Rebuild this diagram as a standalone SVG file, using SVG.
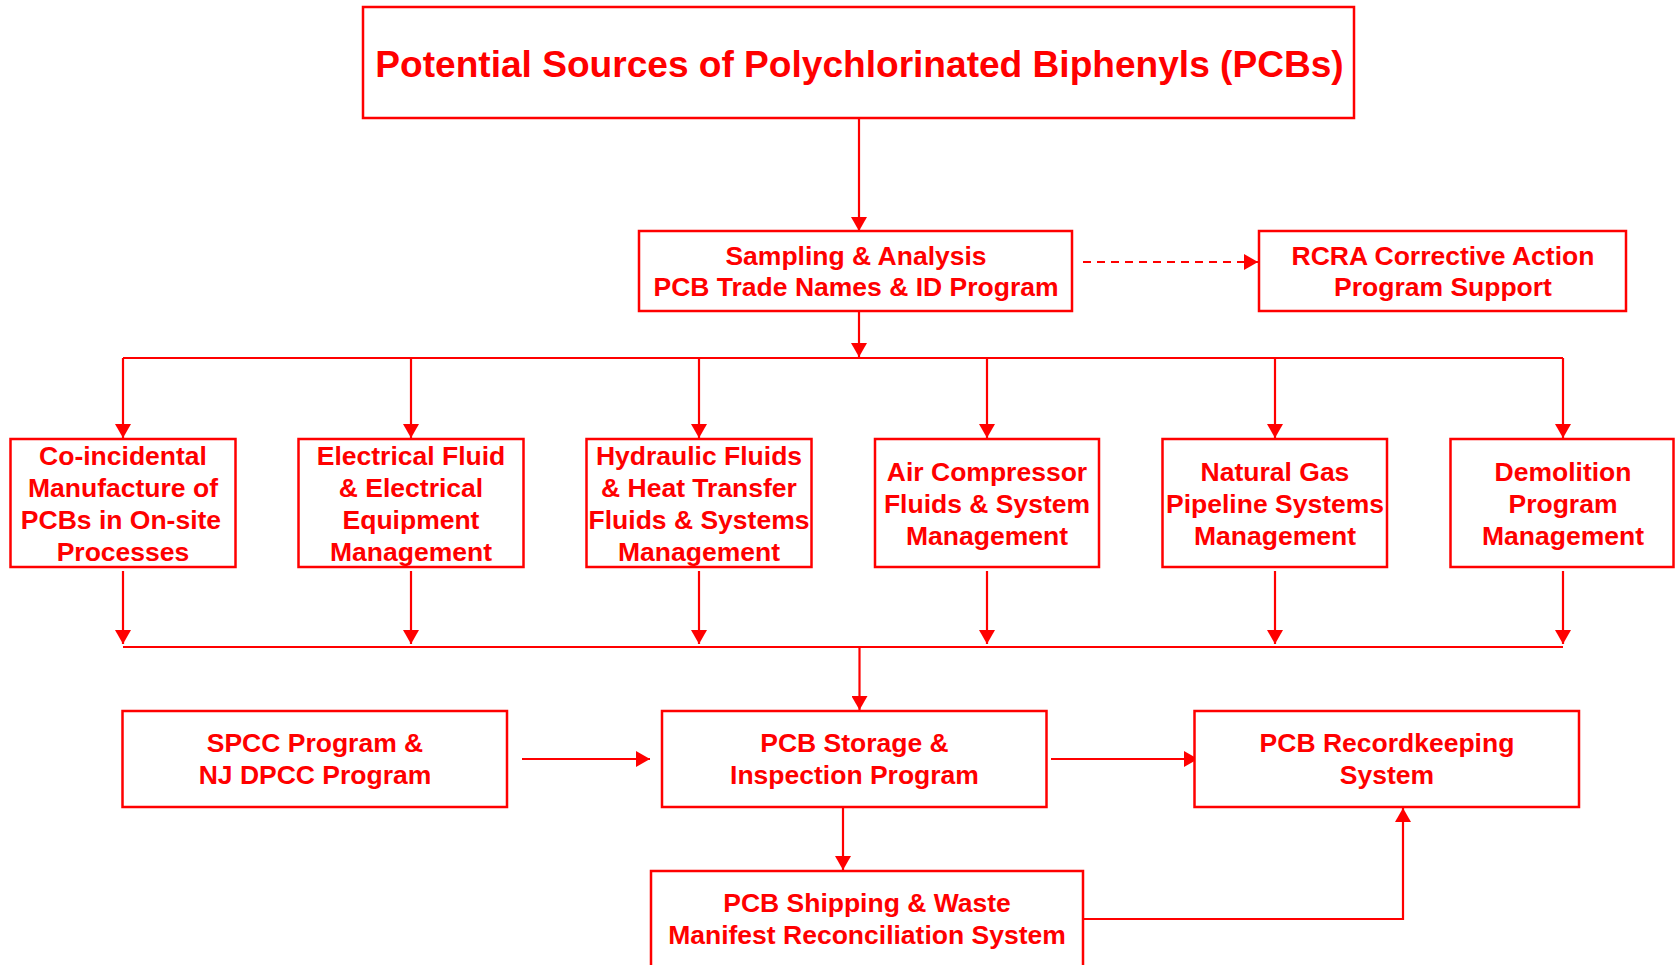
<svg xmlns="http://www.w3.org/2000/svg" width="1675" height="965" viewBox="0 0 1675 965">
<style>
.box{fill:#fff;stroke:#ff0000;stroke-width:2.5}
.t{font-family:"Liberation Sans",Arial,sans-serif;font-weight:bold;font-size:26.5px;fill:#ff0000;text-anchor:middle}
.title{font-size:37.1px}
.c{fill:none;stroke:#ff0000;stroke-width:2.2}
.dash{stroke-dasharray:8 6}
</style>
<defs>
<marker id="ah" markerUnits="userSpaceOnUse" markerWidth="15" markerHeight="16" refX="14" refY="8" orient="auto">
<path d="M0,0 L14,8 L0,16 z" fill="#ff0000"/>
</marker>
</defs>
<rect width="1675" height="965" fill="#fff"/>
<g id="connectors">
<line class="c" x1="859" y1="118" x2="859" y2="231" marker-end="url(#ah)"/>
<line class="c dash" x1="1083" y1="262" x2="1258" y2="262" marker-end="url(#ah)"/>
<line class="c" x1="859" y1="311" x2="859" y2="357" marker-end="url(#ah)"/>
<line class="c" x1="123" y1="358" x2="1563" y2="358"/>
<line class="c" x1="123" y1="358" x2="123" y2="438" marker-end="url(#ah)"/>
<line class="c" x1="411" y1="358" x2="411" y2="438" marker-end="url(#ah)"/>
<line class="c" x1="699" y1="358" x2="699" y2="438" marker-end="url(#ah)"/>
<line class="c" x1="987" y1="358" x2="987" y2="438" marker-end="url(#ah)"/>
<line class="c" x1="1275" y1="358" x2="1275" y2="438" marker-end="url(#ah)"/>
<line class="c" x1="1563" y1="358" x2="1563" y2="438" marker-end="url(#ah)"/>
<line class="c" x1="123" y1="571" x2="123" y2="644" marker-end="url(#ah)"/>
<line class="c" x1="411" y1="571" x2="411" y2="644" marker-end="url(#ah)"/>
<line class="c" x1="699" y1="571" x2="699" y2="644" marker-end="url(#ah)"/>
<line class="c" x1="987" y1="571" x2="987" y2="644" marker-end="url(#ah)"/>
<line class="c" x1="1275" y1="571" x2="1275" y2="644" marker-end="url(#ah)"/>
<line class="c" x1="1563" y1="571" x2="1563" y2="644" marker-end="url(#ah)"/>
<line class="c" x1="123" y1="647" x2="1563" y2="647"/>
<line class="c" x1="859.5" y1="647" x2="859.5" y2="710" marker-end="url(#ah)"/>
<line class="c" x1="522" y1="759" x2="650" y2="759" marker-end="url(#ah)"/>
<line class="c" x1="1051" y1="759" x2="1198" y2="759" marker-end="url(#ah)"/>
<line class="c" x1="843" y1="807" x2="843" y2="870" marker-end="url(#ah)"/>
<polyline class="c" points="1083,919 1403,919 1403,808" marker-end="url(#ah)"/>
</g>
<g id="title">
<rect class="box" x="363" y="7" width="991" height="111"/>
<text class="t title" x="859.5" y="77">Potential Sources of Polychlorinated Biphenyls (PCBs)</text>
</g>
<g id="sampling">
<rect class="box" x="639" y="231" width="433" height="80"/>
<text class="t" x="856" y="265">Sampling &amp; Analysis</text>
<text class="t" x="856" y="296">PCB Trade Names &amp; ID Program</text>
</g>
<g id="rcra">
<rect class="box" x="1259" y="231" width="367" height="80"/>
<text class="t" x="1443" y="265">RCRA Corrective Action</text>
<text class="t" x="1443" y="296">Program Support</text>
</g>
<g id="coincidental">
<rect class="box" x="10.5" y="439" width="225" height="128"/>
<text class="t" x="123" y="465">Co-incidental</text>
<text class="t" x="123" y="497">Manufacture of</text>
<text class="t" x="121" y="529">PCBs in On-site</text>
<text class="t" x="123" y="561">Processes</text>
</g>
<g id="electrical">
<rect class="box" x="298.5" y="439" width="225" height="128"/>
<text class="t" x="411" y="465">Electrical Fluid</text>
<text class="t" x="411" y="497">&amp; Electrical</text>
<text class="t" x="411" y="529">Equipment</text>
<text class="t" x="411" y="561">Management</text>
</g>
<g id="hydraulic">
<rect class="box" x="586.5" y="439" width="225" height="128"/>
<text class="t" x="699" y="465">Hydraulic Fluids</text>
<text class="t" x="699" y="497">&amp; Heat Transfer</text>
<text class="t" x="699" y="529">Fluids &amp; Systems</text>
<text class="t" x="699" y="561">Management</text>
</g>
<g id="aircompressor">
<rect class="box" x="875" y="439" width="224" height="128"/>
<text class="t" x="987" y="481">Air Compressor</text>
<text class="t" x="987" y="513">Fluids &amp; System</text>
<text class="t" x="987" y="545">Management</text>
</g>
<g id="naturalgas">
<rect class="box" x="1162.5" y="439" width="224.5" height="128"/>
<text class="t" x="1275" y="481">Natural Gas</text>
<text class="t" x="1275" y="513">Pipeline Systems</text>
<text class="t" x="1275" y="545">Management</text>
</g>
<g id="demolition">
<rect class="box" x="1450.5" y="439" width="223" height="128"/>
<text class="t" x="1563" y="481">Demolition</text>
<text class="t" x="1563" y="513">Program</text>
<text class="t" x="1563" y="545">Management</text>
</g>
<g id="spcc">
<rect class="box" x="122.5" y="711" width="384.5" height="96"/>
<text class="t" x="315" y="752">SPCC Program &amp;</text>
<text class="t" x="315" y="784">NJ DPCC Program</text>
</g>
<g id="storage">
<rect class="box" x="662" y="711" width="384.5" height="96"/>
<text class="t" x="854.5" y="752">PCB Storage &amp;</text>
<text class="t" x="854.5" y="784">Inspection Program</text>
</g>
<g id="recordkeeping">
<rect class="box" x="1194.5" y="711" width="384.5" height="96"/>
<text class="t" x="1387" y="752">PCB Recordkeeping</text>
<text class="t" x="1387" y="784">System</text>
</g>
<g id="shipping">
<rect class="box" x="651" y="871" width="432" height="110"/>
<text class="t" x="867" y="912">PCB Shipping &amp; Waste</text>
<text class="t" x="867" y="944">Manifest Reconciliation System</text>
</g>
</svg>
